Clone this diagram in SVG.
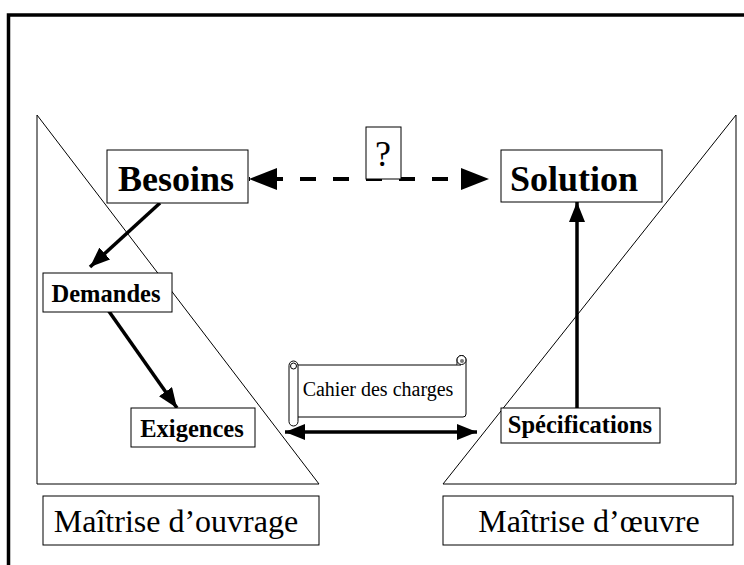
<svg xmlns="http://www.w3.org/2000/svg" width="744" height="565" viewBox="0 0 744 565">
<style>
.box{fill:#fff;stroke:#000;stroke-width:1}
.tri{fill:none;stroke:#000;stroke-width:1}
.serif{font-family:"Liberation Serif","Times New Roman",serif;fill:#000}
.b{font-weight:bold}
.conn{stroke:#000;fill:none}
</style>
<defs>
<marker id="headL" markerUnits="userSpaceOnUse" markerWidth="28" markerHeight="22" refX="28" refY="11" orient="auto-start-reverse">
<path d="M0,0 L28,11 L0,22 z" fill="#000"/>
</marker>
<marker id="headM" markerUnits="userSpaceOnUse" markerWidth="20" markerHeight="16" refX="20" refY="8" orient="auto-start-reverse">
<path d="M0,0 L20,8 L0,16 z" fill="#000"/>
</marker>
</defs>
<rect width="744" height="565" fill="#fff"/>
<rect x="8.5" y="15" width="800" height="600" fill="none" stroke="#000" stroke-width="3.5"/>
<g id="triangle-moa"><path class="tri" d="M37,115 L37,484 L319,484 Z"/></g>
<g id="triangle-moe"><path class="tri" d="M736,115 L736,484 L443,484 Z"/></g>
<g id="connectors">
<line class="conn" x1="249" y1="179" x2="489" y2="179" stroke-width="4" stroke-dasharray="16 17" stroke-dashoffset="15" marker-start="url(#headL)" marker-end="url(#headL)"/>
<line class="conn" x1="160" y1="203" x2="90" y2="267" stroke-width="3.5" marker-end="url(#headM)"/>
<line class="conn" x1="108" y1="310" x2="177" y2="408" stroke-width="3.5" marker-end="url(#headM)"/>
<line class="conn" x1="577" y1="408" x2="577" y2="202" stroke-width="3.5" marker-end="url(#headM)"/>
<line class="conn" x1="285" y1="432" x2="477" y2="432" stroke-width="3.5" marker-start="url(#headM)" marker-end="url(#headM)"/>
</g>
<g id="question">
<rect class="box" x="366" y="127" width="35" height="52"/>
<text class="serif" x="383" y="166" font-size="36" text-anchor="middle">?</text>
</g>
<g id="besoins">
<rect class="box" x="107" y="150" width="141" height="53"/>
<text class="serif b" x="176" y="191" font-size="36" text-anchor="middle">Besoins</text>
</g>
<g id="solution">
<rect class="box" x="501" y="150" width="161" height="52"/>
<text class="serif b" x="574" y="191" font-size="36" text-anchor="middle">Solution</text>
</g>
<g id="demandes">
<rect class="box" x="43" y="273" width="129" height="39"/>
<text class="serif b" x="106" y="302" font-size="24.5" text-anchor="middle">Demandes</text>
</g>
<g id="exigences">
<rect class="box" x="131" y="408" width="124" height="39"/>
<text class="serif b" x="192" y="437" font-size="24.5" text-anchor="middle">Exigences</text>
</g>
<g id="specifications">
<rect class="box" x="501" y="408" width="159" height="35"/>
<text class="serif b" x="580" y="433" font-size="24.5" text-anchor="middle">Spécifications</text>
</g>
<g id="cahier">
<path d="M293,365 H461 M466,360 V414 Q466,417 463,417 H297" fill="none" stroke="#000" stroke-width="1"/>
<path d="M457,365 V360 A4.5,4.5 0 0 1 466,360" fill="#fff" stroke="#000" stroke-width="1"/>
<circle cx="461.5" cy="360" r="4.5" fill="#fff" stroke="#000" stroke-width="1"/>
<circle cx="462" cy="361" r="2" fill="#777"/>
<rect x="289" y="361" width="9" height="65" rx="4.5" fill="#fff" stroke="#000" stroke-width="1"/>
<circle cx="293.5" cy="366" r="3" fill="#fff" stroke="#000" stroke-width="1"/>
<text class="serif" x="378" y="396" font-size="20" text-anchor="middle">Cahier des charges</text>
</g>
<g id="moa">
<rect class="box" x="43" y="496" width="276" height="49"/>
<text class="serif" x="176" y="532" font-size="32" text-anchor="middle">Maîtrise d’ouvrage</text>
</g>
<g id="moe">
<rect class="box" x="443" y="496" width="290" height="49"/>
<text class="serif" x="589" y="532" font-size="32" text-anchor="middle">Maîtrise d’œuvre</text>
</g>
</svg>
